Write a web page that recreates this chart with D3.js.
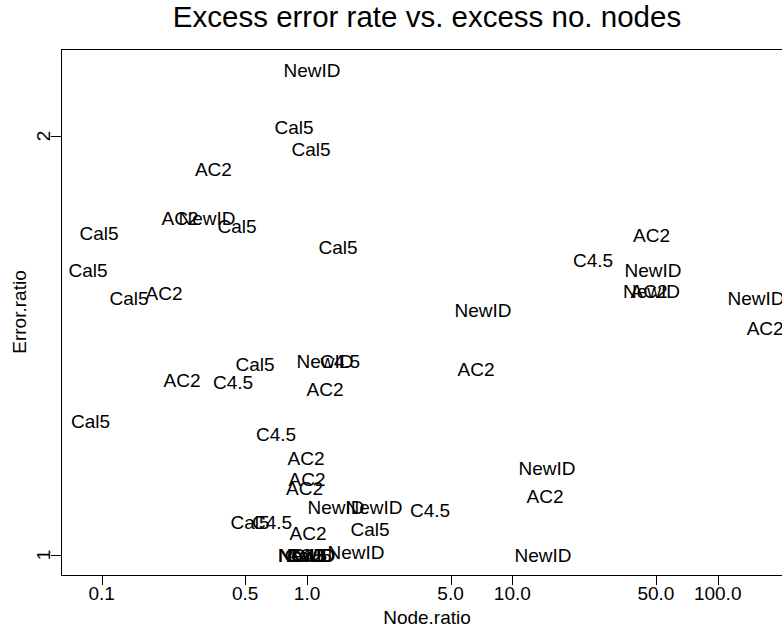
<!DOCTYPE html>
<html><head><meta charset="utf-8">
<script src="https://cdn.jsdelivr.net/npm/d3@7/dist/d3.min.js"></script>
<style>
body{margin:0;background:#fff}
svg{display:block}
text{font-family:"Liberation Sans",Arial,Helvetica,sans-serif;fill:#000}
</style>
</head><body>
<svg id="chart" width="782" height="629"></svg>
<script>
const title = "Excess error rate vs. excess no. nodes";
const xLabel = "Node.ratio";
const yLabel = "Error.ratio";

const labels = [
  "NewID","Cal5","Cal5","AC2","AC2","NewID","Cal5","Cal5","Cal5","Cal5",
  "Cal5","AC2","AC2","C4.5","NewID","NewID","AC2","NewID","AC2","NewID",
  "Cal5","NewID","C4.5","AC2","C4.5","AC2","AC2","Cal5","C4.5","AC2",
  "AC2","AC2","NewID","NewID","C4.5","Cal5","C4.5","AC2","Cal5","NewID",
  "NewID","AC2","NewID","NewID","NewID","Cal5","C4.5","C4.5","AC2"
];
const nodeRatio = [
  1.058,0.864,1.046,0.350,0.2406,0.3257,0.456,0.0970,1.416,0.0858,
  0.1358,0.2012,47.6,24.7,48.4,47.6,46.3,153.8,170.2,7.20,
  0.558,1.224,1.448,0.246,0.436,1.224,6.655,0.0882,0.706,0.989,
  1.0,0.972,1.384,2.120,3.97,0.528,0.675,1.011,2.027,1.733,
  14.76,14.43,14.11,0.99,1.0,0.97,1.0,1.05,0.98
];
const errorRatio = [
  2.229,2.029,1.956,1.894,1.747,1.747,1.724,1.704,1.663,1.602,
  1.529,1.541,1.697,1.628,1.603,1.547,1.547,1.530,1.455,1.500,
  1.372,1.379,1.379,1.336,1.331,1.315,1.361,1.247,1.221,1.173,
  1.133,1.116,1.083,1.083,1.077,1.055,1.055,1.036,1.043,1.004,
  1.154,1.103,1.0,1.0,1.0,1.0,1.0,1.0,1.0
];

const xTicks = [0.1,0.5,1,5,10,50,100];
const xTickLabels = ["0.1","0.5","1.0","5.0","10.0","50.0","100.0"];
const yTicks = [1,2];
const yTickLabels = ["1","2"];

const plot = {left:61, right:793, top:49, bottom:575};

const x = d3.scaleLog().domain([0.1,100]).range([101.7,717.7]);
const y = d3.scaleLog().domain([1,2]).range([555,136]);

const svg = d3.select("#chart");

// title
svg.append("text").attr("x",(plot.left+plot.right)/2).attr("y",27)
  .attr("text-anchor","middle").style("font-size","29.5px").text(title);

// box
svg.append("rect").attr("x",plot.left+0.5).attr("y",plot.top+0.5)
  .attr("width",plot.right-plot.left).attr("height",plot.bottom-plot.top)
  .attr("fill","none").attr("stroke","#000").attr("stroke-width",1);

// x axis ticks
const gx = svg.append("g");
gx.selectAll("line").data(xTicks).join("line")
  .attr("x1",d=>Math.round(x(d))+0.5).attr("x2",d=>Math.round(x(d))+0.5)
  .attr("y1",plot.bottom).attr("y2",plot.bottom+10)
  .attr("stroke","#000");
gx.selectAll("text").data(xTicks).join("text")
  .attr("x",d=>x(d)).attr("y",600).attr("text-anchor","middle")
  .style("font-size","19px").text((d,i)=>xTickLabels[i]);

// y axis ticks
const gy = svg.append("g");
gy.selectAll("line").data(yTicks).join("line")
  .attr("y1",d=>Math.round(y(d))+0.5).attr("y2",d=>Math.round(y(d))+0.5)
  .attr("x1",plot.left-10).attr("x2",plot.left)
  .attr("stroke","#000");
gy.selectAll("text").data(yTicks).join("text")
  .attr("transform",d=>`translate(50,${y(d)}) rotate(-90)`)
  .attr("text-anchor","middle").style("font-size","19px")
  .text((d,i)=>yTickLabels[i]);

// axis labels
svg.append("text").attr("x",(plot.left+plot.right)/2).attr("y",624)
  .attr("text-anchor","middle").style("font-size","19px").text(xLabel);
svg.append("text").attr("transform",`translate(26,${(plot.top+plot.bottom)/2}) rotate(-90)`)
  .attr("text-anchor","middle").style("font-size","19px").text(yLabel);

// point labels
svg.append("g").selectAll("text").data(labels).join("text")
  .attr("x",(d,i)=>x(nodeRatio[i]))
  .attr("y",(d,i)=>y(errorRatio[i]))
  .attr("dy","0.36em")
  .attr("text-anchor","middle")
  .style("font-size","19px")
  .text(d=>d);
</script>
</body></html>
